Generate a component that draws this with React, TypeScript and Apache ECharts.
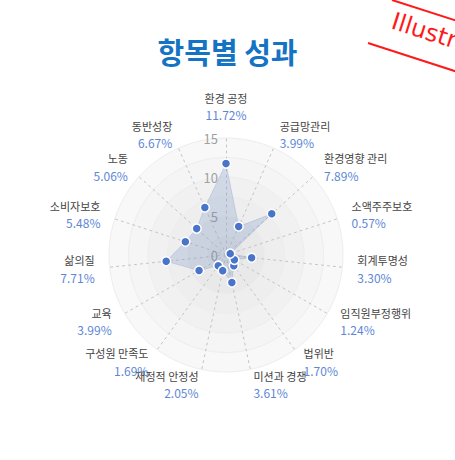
import React, { useEffect, useRef } from 'react';
import * as echarts from 'echarts';

const TITLE = '항목별 성과';
const categories = [
  '환경 공정', '공급망관리', '환경영향 관리', '소액주주보호', '회계투명성',
  '임직원부정행위', '법위반', '미션과 경쟁', '재정적 안정성', '구성원 만족도',
  '교육', '삶의질', '소비자보호', '노동', '동반성장',
];
const values = [11.72, 3.99, 7.89, 0.57, 3.3, 1.24, 1.7, 3.61, 2.05, 1.69, 3.99, 7.71, 5.48, 5.06, 6.67];
const axisMax = 15;
const tickLabels = [0, 5, 10, 15];

const FONT = '"Noto Sans CJK KR", "Noto Sans", sans-serif';

export default function App() {
  const ref = useRef<HTMLDivElement>(null);
  useEffect(() => {
    document.body.style.margin = '0';
    const chart = echarts.init(ref.current!, null, { renderer: 'svg' });
    // ECharts lays radar indicators counter-clockwise; reorder so the picture runs clockwise
    const order = [0, ...categories.map((_, i) => i).slice(1).reverse()];
    const indicator = order.map((i, k) => ({
      name: categories[i],
      min: 0,
      max: axisMax,
      ...(k === 0 ? { axisLabel: { show: true } } : {}),
    }));
    const data = order.map((i) => values[i]);

    chart.setOption({
      animation: false,
      backgroundColor: '#ffffff',
      textStyle: { fontFamily: FONT },
      title: {
        text: TITLE,
        left: 'center',
        top: 31,
        textStyle: { color: '#1573c3', fontSize: 29, fontWeight: 'bold', fontFamily: FONT },
      },
      graphic: [
        {
          type: 'line',
          shape: { x1: 392, y1: 0, x2: 470, y2: 25 },
          style: { stroke: '#ff1a1a', lineWidth: 2 },
          silent: true,
        },
        {
          type: 'line',
          shape: { x1: 368, y1: 43, x2: 470, y2: 76 },
          style: { stroke: '#ff1a1a', lineWidth: 2 },
          silent: true,
        },
        {
          type: 'text',
          x: 396,
          y: 9,
          rotation: -0.31,
          style: {
            text: 'Illustration',
            fill: '#ff1a1a',
            font: '24px "DejaVu Sans", sans-serif',
            textVerticalAlign: 'top',
          },
          silent: true,
        },
      ],
      radar: {
        center: [226, 255],
        radius: 117,
        shape: 'circle',
        splitNumber: 6,
        nameGap: 15,
        indicator,
        axisName: {
          formatter: (name: string) => {
            const v = values[categories.indexOf(name)];
            return `{n|${name}}\n{v|${v.toFixed(2)}%}`;
          },
          rich: {
            n: { fontSize: 11, color: '#444444', lineHeight: 17, fontFamily: FONT },
            v: { fontSize: 12, color: '#5d87d6', lineHeight: 17, fontFamily: FONT },
          },
        },
        axisLine: { lineStyle: { color: '#c4c4c4', type: [2, 4], width: 1 } },
        splitLine: { lineStyle: { color: '#ededed', width: 1 } },
        splitArea: {
          areaStyle: {
            color: ['#e6e6e6', '#e9e9e9', '#eeeeee', '#f1f1f1', '#f5f5f5', '#f8f8f8'],
          },
        },
        axisLabel: {
          show: false,
          color: '#a0a0a0',
          fontSize: 13,
          formatter: (v: number) => (tickLabels.includes(v) ? String(v) : ''),
        },
      },
      series: [
        {
          type: 'radar',
          symbol: 'circle',
          symbolSize: 9,
          data: [{ value: data, name: TITLE }],
          itemStyle: { color: '#4a74c9', borderColor: '#ffffff', borderWidth: 1.5 },
          lineStyle: { width: 0.5, color: 'rgba(120,145,195,0.5)' },
          areaStyle: { color: 'rgba(100,130,190,0.33)' },
        },
      ],
    });
    return () => chart.dispose();
  }, []);
  return <div ref={ref} style={{ width: 455, height: 460 }} />;
}
